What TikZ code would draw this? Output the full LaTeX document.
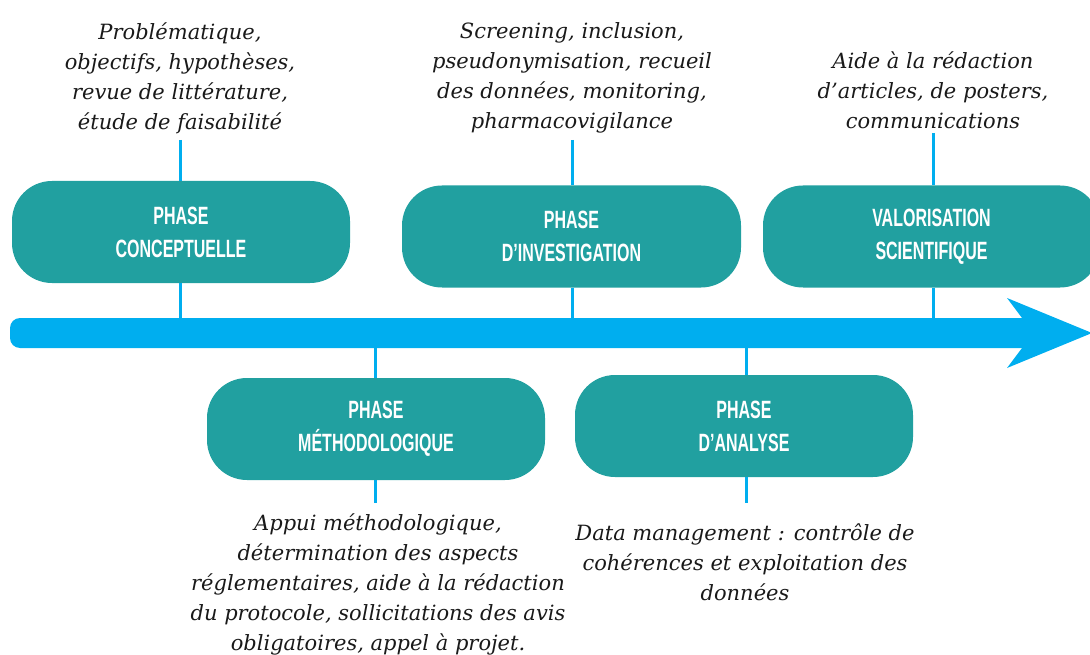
\documentclass[tikz,border=0pt]{standalone}
\usepackage{fontspec}
\setmainfont{DejaVu Serif}
\newfontfamily\headfont[FakeStretch=0.64]{Liberation Sans}
\definecolor{tealbox}{RGB}{33,160,160}
\definecolor{barblue}{RGB}{0,174,239}
\begin{document}
\begin{tikzpicture}[x=1pt,y=-1pt,
  phasebox/.style={fill=tealbox, rounded corners=40pt, text=white,
    font=\headfont\bfseries\fontsize{25}{33}\selectfont, align=center,
    inner sep=0pt, minimum height=102pt},
  desc/.style={font=\itshape\fontsize{21}{30}\selectfont, text=black!90,
    align=center, inner sep=0pt},
  link/.style={draw=barblue, line width=3pt}]
\useasboundingbox (0,0) rectangle (1090,655);

% timeline arrow
\fill[barblue, rounded corners=10pt] (10,318) rectangle (1040,348);
\fill[barblue] (1022,318) -- (1007,298) -- (1092,333) -- (1007,368) -- (1022,348) -- cycle;
\coordinate (bartop) at (0,318);
\coordinate (barbot) at (0,348);

% end points of the description connectors
\coordinate (e1) at (180,140);
\coordinate (e2) at (572,140);
\coordinate (e3) at (933,133);
\coordinate (e4) at (375,503);
\coordinate (e5) at (746,503);

% phase boxes
\node[phasebox, minimum width=338pt] (b1) at (181,232) {PHASE\\CONCEPTUELLE};
\node[phasebox, minimum width=339pt] (b2) at (571.5,236.5) {PHASE\\D’INVESTIGATION};
\node[phasebox, minimum width=337pt] (b3) at (931.5,236.5) {VALORISATION\\SCIENTIFIQUE};
\node[phasebox, minimum width=338pt] (b4) at (376,429) {PHASE\\MÉTHODOLOGIQUE};
\node[phasebox, minimum width=338pt] (b5) at (744,426) {PHASE\\D’ANALYSE};

% descriptions
\node[desc] (t1) at (180,78) {Problématique,\\objectifs, hypothèses,\\revue de littérature,\\étude de faisabilité};
\node[desc] (t2) at (572,78) {Screening, inclusion,\\pseudonymisation, recueil\\des données, monitoring,\\pharmacovigilance};
\node[desc] (t3) at (933,90) {Aide à la rédaction\\d’articles, de posters,\\communications};
\node[desc] (t4) at (378,584) {Appui méthodologique,\\détermination des aspects\\réglementaires, aide à la rédaction\\du protocole, sollicitations des avis\\obligatoires, appel à projet.};
\node[desc] (t5) at (745,562) {Data management : contrôle de\\cohérences et exploitation des\\données};

% connectors
\draw[link] (e1) -- (e1 |- b1.north);
\draw[link] (e1 |- b1.south) -- (e1 |- bartop);
\draw[link] (e2) -- (e2 |- b2.north);
\draw[link] (e2 |- b2.south) -- (e2 |- bartop);
\draw[link] (e3) -- (e3 |- b3.north);
\draw[link] (e3 |- b3.south) -- (e3 |- bartop);
\draw[link] (e4 |- barbot) -- (e4 |- b4.north);
\draw[link] (e4 |- b4.south) -- (e4);
\draw[link] (e5 |- barbot) -- (e5 |- b5.north);
\draw[link] (e5 |- b5.south) -- (e5);
\end{tikzpicture}
\end{document}
